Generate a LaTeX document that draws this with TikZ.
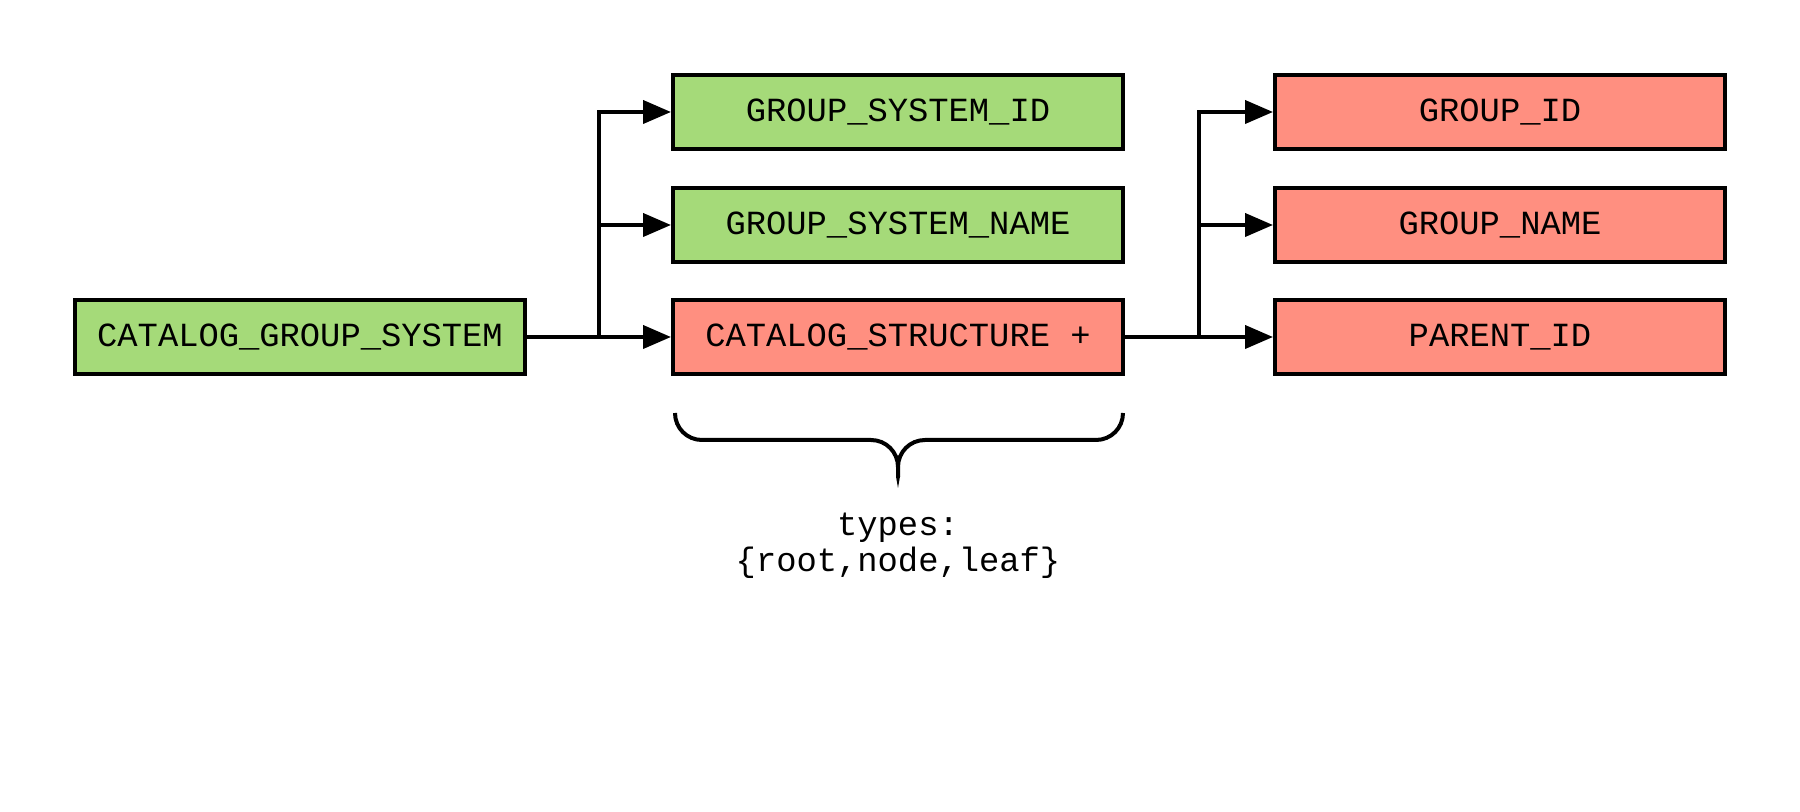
\documentclass[tikz,border=0pt]{standalone}
\usepackage{fontspec}
\setmonofont{Liberation Mono}
\usetikzlibrary{arrows.meta}
\definecolor{boxgreen}{RGB}{165,218,121}
\definecolor{boxred}{RGB}{255,143,128}
\begin{document}
\begin{tikzpicture}[x=0.5pt,y=-0.5pt,
  field/.style={draw=black, line width=2pt, minimum width=225pt, minimum height=37pt, inner sep=0pt, font=\ttfamily\fontsize{16.9}{20}\selectfont},
  greenbox/.style={field, fill=boxgreen},
  redbox/.style={field, fill=boxred},
  conn/.style={line width=2pt, -{Triangle[length=14pt,width=11.5pt]}},
  bracestyle/.style={line width=2pt, line cap=butt},
  label/.style={align=center, font=\ttfamily\fontsize{16.9}{18}\selectfont, inner sep=0pt}
]
\useasboundingbox (0,0) rectangle (1800,812);
\node[greenbox] (cgs) at (300,337) {CATALOG\_GROUP\_SYSTEM};
\node[greenbox] (gsi) at (898,112) {GROUP\_SYSTEM\_ID};
\node[greenbox] (gsn) at (898,225) {GROUP\_SYSTEM\_NAME};
\node[redbox] (cs) at (898,337) {CATALOG\_STRUCTURE +};
\node[redbox] (gid) at (1500,112) {GROUP\_ID};
\node[redbox] (gname) at (1500,225) {GROUP\_NAME};
\node[redbox] (pid) at (1500,337) {PARENT\_ID};
\coordinate (j1) at (599,337);
\coordinate (j2) at (1199,337);
\draw[conn] (cgs.east) -- (cs.west);
\draw[conn] (j1) |- (gsi.west);
\draw[conn] (j1) |- (gsn.west);
\draw[conn] (cs.east) -- (pid.west);
\draw[conn] (j2) |- (gid.west);
\draw[conn] (j2) |- (gname.west);
\coordinate (bl) at (675,413);
\coordinate (br) at (1123,413);
\coordinate (bt) at (898,488);
\draw[bracestyle] (bl) .. controls (675,428) and (687,440) .. (702,440) -- (871,440) .. controls (886,440) and (898,452) .. (898,467) -- (898,477);
\draw[bracestyle] (br) .. controls (1123,428) and (1111,440) .. (1096,440) -- (925,440) .. controls (910,440) and (898,452) .. (898,467);
\fill (896,476.5) -- (900,476.5) -- (bt) -- cycle;
\node[label, anchor=base] (types) at (898,572) {types:\\\{root,node,leaf\}};
\end{tikzpicture}
\end{document}
